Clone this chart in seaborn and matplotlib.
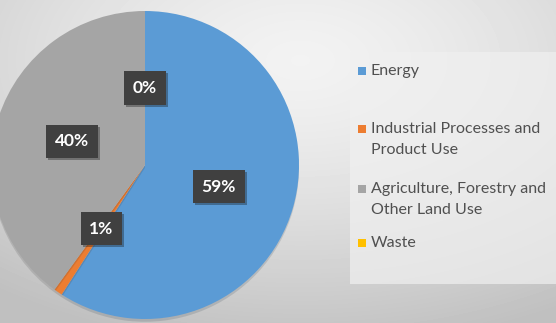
import numpy as np
import seaborn as sns
import matplotlib.pyplot as plt
import matplotlib.patheffects as pe
from matplotlib.patches import Rectangle

# Data
categories = ['Energy', 'Industrial Processes and\nProduct Use',
              'Agriculture, Forestry and\nOther Land Use', 'Waste']
shares = [59.1, 0.9, 40.0, 0.0]
pct_labels = ['59%', '1%', '40%', '0%']
colors = ['#5B9BD5', '#ED7D31', '#A5A5A5', '#FFC000']

sns.set_theme(style='white')
plt.rcParams['font.family'] = ['Lato', 'DejaVu Sans']

fig = plt.figure(figsize=(5.56, 3.23), dpi=100)

# Background radial gradient
bg = fig.add_axes([0, 0, 1, 1], zorder=-10)
yy, xx = np.mgrid[0:323, 0:556]
dist = np.hypot((xx - 300) / 556, (yy - 60) / 323)
shade = 0.95 - 0.2 * np.clip(dist / 0.9, 0, 1) ** 1.4
bg.imshow(shade, cmap='gray', vmin=0, vmax=1, aspect='auto', extent=[0, 1, 0, 1])
bg.axis('off')

# Legend panel
fig.patches.append(Rectangle((350 / 556, 1 - 284 / 323), 206 / 556, 232 / 323,
                             transform=fig.transFigure, facecolor='#f0f0f0',
                             edgecolor='none', alpha=0.7, zorder=-5))

# Pie
cx, cy, r = 145, 165, 154
ax = fig.add_axes([(cx - r) / 556, (323 - cy - r) / 323, 2 * r / 556, 2 * r / 323])
wedges, texts = ax.pie(shares, colors=colors, startangle=90, counterclock=False,
                       labels=pct_labels, labeldistance=0.5,
                       wedgeprops=dict(linewidth=0))
for w in wedges:
    w.set_path_effects([pe.SimplePatchShadow(offset=(0, -2), alpha=0.15), pe.Normal()])
for t in texts:
    t.set_ha('center')
    t.set_va('center')
    t.set_color('white')
    t.set_fontweight('bold')
    t.set_fontsize(12.5)
    t.set_bbox(dict(boxstyle='square,pad=0.5', fc='#404040', ec='none'))
    t.get_bbox_patch().set_path_effects(
        [pe.SimplePatchShadow(offset=(1.5, -1.5), alpha=0.35), pe.Normal()])
ax.set_xlim(-1, 1)
ax.set_ylim(-1, 1)
ax.axis('off')

# Legend entries (first-line y in pixels)
legend_y = [71, 129, 189, 243]
for cat, col, y in zip(categories, colors, legend_y):
    fy = 1 - y / 323
    fig.patches.append(Rectangle((358 / 556, fy - 4 / 323), 8 / 556, 8 / 323,
                                 transform=fig.transFigure, facecolor=col,
                                 edgecolor='none'))
    fig.text(371 / 556, fy + 7 / 323, cat, ha='left', va='top', fontsize=11.5,
             color='#505050', linespacing=1.6)

fig.savefig('out.png', dpi=100)
